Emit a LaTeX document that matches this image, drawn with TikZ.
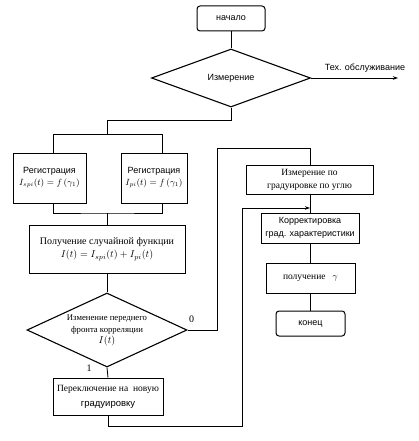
\documentclass[tikz,border=0pt]{standalone}
\usepackage{fontspec}
\setmainfont{Liberation Serif}
\newfontfamily\sansf{Liberation Sans}
\usetikzlibrary{shapes.geometric,arrows.meta}
\tikzset{
  box/.style={draw, line width=1pt, inner sep=1pt, align=center},
  term/.style={box, rounded corners=3pt},
  dec/.style={draw, diamond, line width=1.1pt, inner sep=0pt, align=center},
  conn/.style={line width=0.8pt},
  arr/.style={conn, -{Stealth[length=5pt,width=3.5pt]}},
  lbl/.style={inner sep=0pt, font=\sansf\fontsize{9}{10}\selectfont}
}
\begin{document}
\begin{tikzpicture}[x=1pt,y=-1pt]
\useasboundingbox (0,0) rectangle (418,441);
% nodes
\node[term, minimum width=68pt, minimum height=25pt, font=\sansf\fontsize{9}{10}\selectfont] (start) at (231,18.5) {начало};
\node[dec, minimum width=159pt, minimum height=58pt, aspect=2.74, font=\sansf\fontsize{9}{10}\selectfont] (meas) at (231,78) {Измерение};
\node[box, minimum width=73pt, minimum height=50pt, font=\fontsize{9}{12}\selectfont] (reg1) at (49.5,178) {{\sansf Регистрация}\\$I_{spi}(t)=f\left(\gamma_1\right)$};
\node[box, minimum width=66pt, minimum height=50pt, font=\fontsize{9}{12}\selectfont] (reg2) at (154,178) {{\sansf Регистрация}\\$I_{pi}(t)=f\left(\gamma_1\right)$};
\node[box, minimum width=156pt, minimum height=48pt, font=\fontsize{10}{13}\selectfont] (get) at (107,249) {Получение случайной функции\\$I(t)=I_{spi}(t)+I_{pi}(t)$};
\node[dec, minimum width=160pt, minimum height=74pt, aspect=2.16, font=\fontsize{8.7}{12.5}\selectfont] (corr) at (107,330) {Изменение переднего\\фронта корреляции\\[-2pt]{\fontsize{10}{10}\selectfont$I(t)$}};
\node[box, minimum width=110pt, minimum height=37pt, inner sep=0pt, font=\fontsize{9.5}{15}\selectfont] (switch) at (108,396.5) {Переключение на \ новую\\{\sansf градуировку}};
\node[box, minimum width=127pt, minimum height=29pt, font=\fontsize{9.5}{13}\selectfont] (mang) at (309.5,179.5) {Измерение по\\градуировке по углю};
\node[box, minimum width=98pt, minimum height=30pt, inner sep=0pt, font=\sansf\fontsize{9}{13}\selectfont] (adj) at (310,228) {Корректировка\\град. характеристики};
\node[box, minimum width=89pt, minimum height=30pt, font=\fontsize{9.5}{12}\selectfont] (obt) at (310.5,278) {получение \ \ $\gamma$};
\node[term, minimum width=69pt, minimum height=25pt, font=\sansf\fontsize{9}{10}\selectfont] (end) at (310.5,323.5) {конец};
% coordinates
\coordinate (svc) at (398,78);
\coordinate (j0) at (107,120);
\coordinate (s1) at (107,134);
\coordinate (s1l) at (53,134);
\coordinate (s1r) at (162,134);
\coordinate (j1) at (107,213);
\coordinate (r1) at (217,330);
\coordinate (r2) at (217,148);
\coordinate (r3) at (310,148);
\coordinate (b1) at (108,426);
\coordinate (b2) at (242,426);
\coordinate (b3) at (242,208);
\coordinate (b4) at (310,208);
% connectors
\draw[conn] (start) -- (meas);
\draw[arr] (meas.east) -- (svc) node[lbl, pos=0.62, above=5pt] {Тех. обслуживание};
\draw[conn] (meas.south) |- (j0) -- (s1);
\draw[conn] (s1l) -- (s1r);
\draw[conn] (s1l) -- (s1l |- reg1.north);
\draw[conn] (s1r) -- (s1r |- reg2.north);
\draw[conn] (s1l |- reg1.south) |- (j1) -| (s1r |- reg2.south);
\draw[conn] (j1) -- (get.north);
\draw[conn] (get.south) -- (corr.north);
\draw[conn] (corr.east) -- (r1) -- (r2) -- (r3) -- (r3 |- mang.north);
\node[lbl, font=\fontsize{10}{10}\selectfont, anchor=south west] (zero) at (189,323) {0};
\draw[conn] (corr.south) -- (switch.north);
\node[lbl, font=\fontsize{10}{10}\selectfont, anchor=south] (one) at (89,372) {1};
\draw[conn] (mang.south -| b4) -- (adj.north -| b4);
\draw[conn] (switch.south) |- (b2) -- (b3);
\draw[arr] (b3) -- (b4);
\draw[conn] (adj.south -| b4) -- (obt.north -| b4);
\draw[conn] (obt.south -| b4) -- (end.north -| b4);
\end{tikzpicture}
\end{document}
